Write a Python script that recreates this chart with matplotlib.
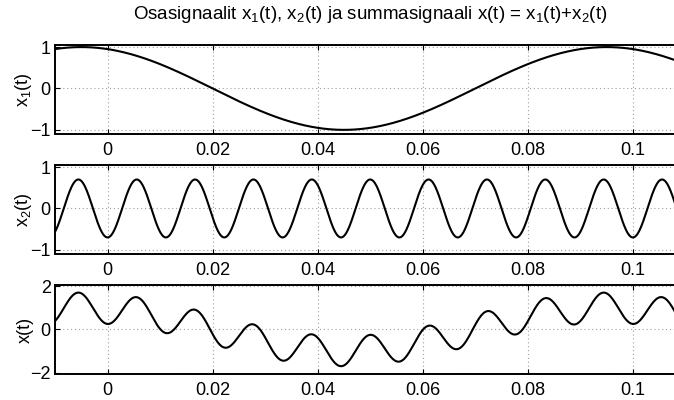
import numpy as np
import matplotlib
matplotlib.use("Agg")
import matplotlib.pyplot as plt

plt.rcParams['font.family'] = ['Liberation Sans', 'DejaVu Sans']
plt.rcParams['mathtext.fontset'] = 'custom'
plt.rcParams['mathtext.rm'] = 'Liberation Sans'
plt.rcParams['mathtext.it'] = 'Liberation Sans'

# signal parameters
amplitudes = [1.0, 0.7]        # x1, x2
freqs_hz = [10.0, 90.0]
phases_rad = [np.pi / 10, np.pi]   # x1 peaks at t=-0.005, x2 has a minimum at t=0

t_start = -0.01
t_stop = 0.11
n_samples = 2000

xticks = [0, 0.02, 0.04, 0.06, 0.08, 0.1]
xticklabels = ['0', '0.02', '0.04', '0.06', '0.08', '0.1']
yticks_list = [[-1, 0, 1], [-1, 0, 1], [-2, 0, 2]]
ylims = [(-1.1, 1.05), (-1.1, 1.05), (-2.06, 2.05)]
ylabels = [r'x$_1$(t)', r'x$_2$(t)', 'x(t)']
title = r'Osasignaalit x$_1$(t), x$_2$(t) ja summasignaali x(t) = x$_1$(t)+x$_2$(t)'

t = np.linspace(t_start, t_stop, n_samples)
x1 = amplitudes[0] * np.cos(2 * np.pi * freqs_hz[0] * t + phases_rad[0])
x2 = amplitudes[1] * np.cos(2 * np.pi * freqs_hz[1] * t + phases_rad[1])
x = x1 + x2
signals = [x1, x2, x]

W, H = 674, 400
fig = plt.figure(figsize=(W / 100, H / 100), dpi=100)

left_px = 55
width_px = 630.4
tops_px = [45, 165, 285]
height_px = 89
fs = 13

for k in range(3):
    ax = fig.add_axes([left_px / W, 1 - (tops_px[k] + height_px) / H,
                       width_px / W, height_px / H])
    ax.plot(t, signals[k], color='black', linewidth=1.5)
    ax.set_xlim(t_start, t_stop)
    ax.set_ylim(*ylims[k])
    ax.set_xticks(xticks)
    ax.set_xticklabels(xticklabels)
    ax.set_yticks(yticks_list[k])
    ax.set_yticklabels([str(v) if v >= 0 else '\u2212' + str(-v) for v in yticks_list[k]])
    ax.tick_params(direction='in', length=3.5, width=0.8, labelsize=fs,
                   top=True, right=True, color='black')
    ax.tick_params(axis='x', pad=6)
    ax.tick_params(axis='y', pad=3)
    ax.grid(True, color='#a0a0a0', linestyle=(0, (1, 2.5)), linewidth=0.8)
    for s in ax.spines.values():
        s.set_linewidth(1.4)
    ax.set_ylabel(ylabels[k], fontsize=fs)
    ax.yaxis.set_label_coords(-0.034, 0.5)

fig.text(370 / W, 1 - 19 / H, title, ha='center', va='baseline', fontsize=13.5)

fig.savefig('out.png', dpi=100)
